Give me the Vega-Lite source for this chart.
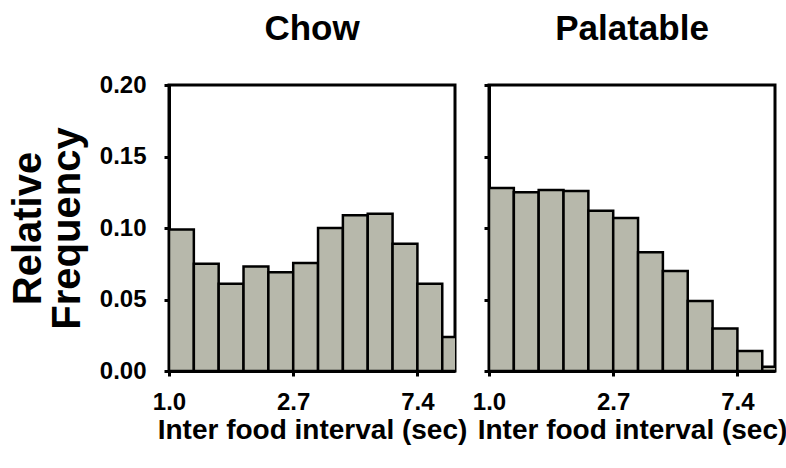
{
  "$schema": "https://vega.github.io/schema/vega-lite/v6.json",
  "padding": {"left": 6, "top": 10, "right": 0, "bottom": 0},
  "background": "white",
  "datasets": {
    "chow": [
      {"start": 1.0, "end": 1.2214, "freq": 0.099},
      {"start": 1.2214, "end": 1.4918, "freq": 0.075},
      {"start": 1.4918, "end": 1.8221, "freq": 0.061},
      {"start": 1.8221, "end": 2.2255, "freq": 0.073},
      {"start": 2.2255, "end": 2.7183, "freq": 0.069},
      {"start": 2.7183, "end": 3.3201, "freq": 0.0755},
      {"start": 3.3201, "end": 4.0552, "freq": 0.100},
      {"start": 4.0552, "end": 4.9530, "freq": 0.109},
      {"start": 4.9530, "end": 6.0496, "freq": 0.110},
      {"start": 6.0496, "end": 7.3891, "freq": 0.089},
      {"start": 7.3891, "end": 9.0250, "freq": 0.061},
      {"start": 9.0250, "end": 11.0232, "freq": 0.0237}
    ],
    "palatable": [
      {"start": 1.0, "end": 1.2214, "freq": 0.128},
      {"start": 1.2214, "end": 1.4918, "freq": 0.125},
      {"start": 1.4918, "end": 1.8221, "freq": 0.1265},
      {"start": 1.8221, "end": 2.2255, "freq": 0.1258},
      {"start": 2.2255, "end": 2.7183, "freq": 0.112},
      {"start": 2.7183, "end": 3.3201, "freq": 0.107},
      {"start": 3.3201, "end": 4.0552, "freq": 0.083},
      {"start": 4.0552, "end": 4.9530, "freq": 0.070},
      {"start": 4.9530, "end": 6.0496, "freq": 0.049},
      {"start": 6.0496, "end": 7.3891, "freq": 0.0298},
      {"start": 7.3891, "end": 9.0250, "freq": 0.014},
      {"start": 9.0250, "end": 11.0232, "freq": 0.003}
    ]
  },
  "config": {
    "font": "Liberation Sans",
    "view": {"stroke": "black", "strokeWidth": 3},
    "concat": {"spacing": 1},
    "title": {"fontSize": 35, "fontWeight": "bold", "color": "black", "font": "Liberation Sans"},
    "axis": {
      "grid": false,
      "domainColor": "black",
      "domainWidth": 3,
      "tickColor": "black",
      "tickWidth": 3,
      "tickSize": 5,
      "labelColor": "black",
      "labelFontWeight": "bold",
      "labelFontSize": 24,
      "labelFont": "Liberation Sans",
      "titleColor": "black",
      "titleFontWeight": "bold",
      "titleFont": "Liberation Sans"
    }
  },
  "hconcat": [
    {
      "width": 286,
      "height": 286,
      "title": {"text": "Chow", "offset": 26},
      "data": {"name": "chow"},
      "mark": {"type": "bar", "fill": "#b7b8ab", "stroke": "black", "strokeWidth": 2.5, "clip": true},
      "encoding": {
        "x": {
          "field": "start", "type": "quantitative",
          "scale": {"type": "log", "base": 2.718281828, "domain": [1, 10], "nice": false},
          "axis": {"values": [1, 2.718281828, 7.389056], "format": ".1f", "labelPadding": 14, "labelFlush": false,
                   "title": "Inter food interval (sec)", "titleFontSize": 28, "titlePadding": 2}
        },
        "x2": {"field": "end"},
        "y": {
          "field": "freq", "type": "quantitative",
          "scale": {"domain": [0, 0.2], "nice": false},
          "axis": {"values": [0, 0.05, 0.1, 0.15, 0.2], "format": ".2f", "labelPadding": 18,
                   "title": ["Relative", "Frequency"], "titleFontSize": 40, "titleLineHeight": 39, "titlePadding": 12}
        },
        "y2": {"datum": 0}
      }
    },
    {
      "width": 286,
      "height": 286,
      "title": {"text": "Palatable", "offset": 37},
      "data": {"name": "palatable"},
      "mark": {"type": "bar", "fill": "#b7b8ab", "stroke": "black", "strokeWidth": 2.5, "clip": true},
      "encoding": {
        "x": {
          "field": "start", "type": "quantitative",
          "scale": {"type": "log", "base": 2.718281828, "domain": [1, 10], "nice": false},
          "axis": {"values": [1, 2.718281828, 7.389056], "format": ".1f", "labelPadding": 14, "labelFlush": false,
                   "title": "Inter food interval (sec)", "titleFontSize": 28, "titlePadding": 2}
        },
        "x2": {"field": "end"},
        "y": {
          "field": "freq", "type": "quantitative",
          "scale": {"domain": [0, 0.2], "nice": false},
          "axis": {"values": [0, 0.05, 0.1, 0.15, 0.2], "labels": false, "title": null}
        },
        "y2": {"datum": 0}
      }
    }
  ]
}
